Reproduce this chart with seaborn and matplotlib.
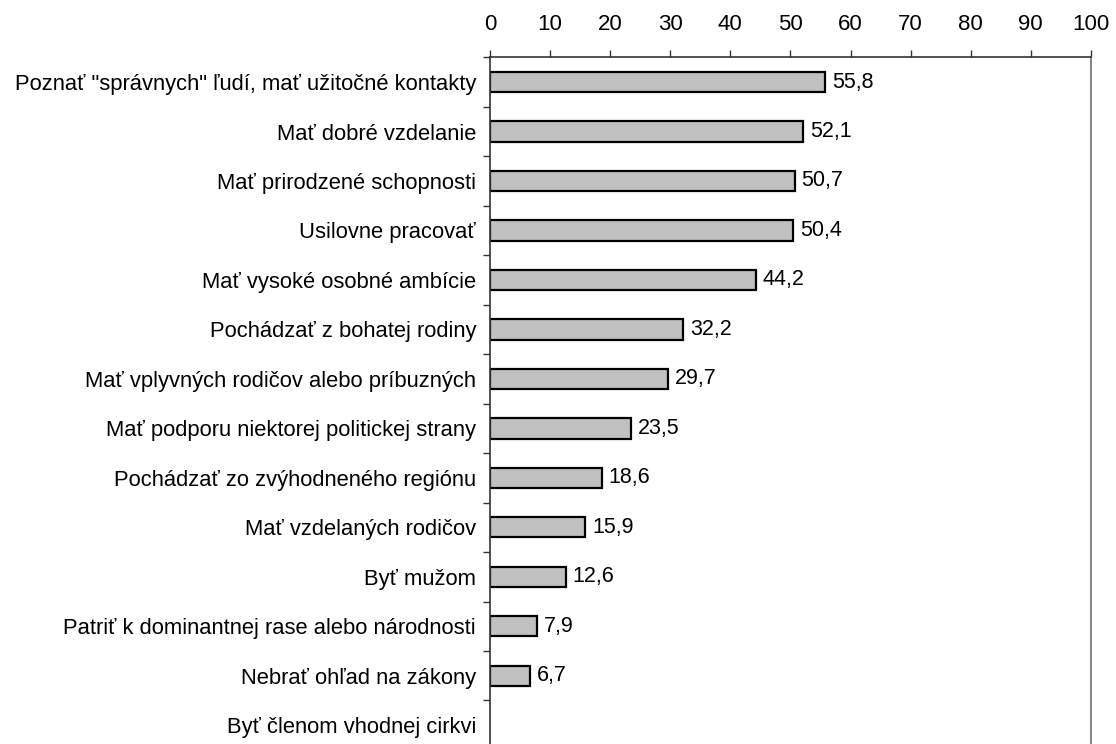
import numpy as np
import pandas as pd
import matplotlib
matplotlib.use("Agg")
import matplotlib.pyplot as plt
import seaborn as sns

categories = [
    'Poznať "správnych" ľudí, mať užitočné kontakty',
    "Mať dobré vzdelanie",
    "Mať prirodzené schopnosti",
    "Usilovne pracovať",
    "Mať vysoké osobné ambície",
    "Pochádzať z bohatej rodiny",
    "Mať vplyvných rodičov alebo príbuzných",
    "Mať podporu niektorej politickej strany",
    "Pochádzať zo zvýhodneného regiónu",
    "Mať vzdelaných rodičov",
    "Byť mužom",
    "Patriť k dominantnej rase alebo národnosti",
    "Nebrať ohľad na zákony",
    "Byť členom vhodnej cirkvi",
]
values = [55.8, 52.1, 50.7, 50.4, 44.2, 32.2, 29.7, 23.5, 18.6, 15.9, 12.6, 7.9, 6.7]
xticks = list(range(0, 101, 10))

df = pd.DataFrame({"kat": categories[:len(values)], "val": values})

sns.set_style("white")
plt.rcParams["font.family"] = ["Liberation Sans", "DejaVu Sans"]
plt.rcParams["text.color"] = "black"
plt.rcParams["xtick.color"] = "black"
plt.rcParams["ytick.color"] = "black"

fig = plt.figure(figsize=(11.16, 7.44), dpi=100)
ax = fig.add_axes([0.439, -0.008, 0.5385, 0.931])

sns.barplot(data=df, x="val", y="kat", order=categories, orient="h",
            color="#c0c0c0", edgecolor="black", linewidth=1.6,
            width=0.41, saturation=1, ax=ax)

ax.bar_label(ax.containers[0], labels=[f"{v:.1f}".replace(".", ",") for v in values],
             padding=5, fontsize=15.5, color="black")

ax.set_xlim(0, 100)
ax.set_ylim(len(categories) - 0.5, -0.5)
ax.set_xticks(xticks)
ax.xaxis.tick_top()
ax.tick_params(axis="x", direction="out", length=5, width=1, color="#333333",
               labelcolor="black", labelsize=16, pad=11, top=True, bottom=False)
ax.tick_params(axis="y", which="major", length=0, labelsize=15.8,
               labelcolor="black", pad=10)
ax.set_yticks(np.arange(len(categories) + 1) - 0.5, minor=True)
ax.tick_params(axis="y", which="minor", direction="out", length=5, width=1,
               color="#333333", left=True)
ax.set_xlabel("")
ax.set_ylabel("")

for s in ["top", "left"]:
    ax.spines[s].set_color("#333333")
    ax.spines[s].set_linewidth(1.2)
ax.spines["right"].set_color("#888888")
ax.spines["right"].set_linewidth(1.5)
ax.spines["bottom"].set_visible(False)

fig.savefig("out.png", dpi=100)
